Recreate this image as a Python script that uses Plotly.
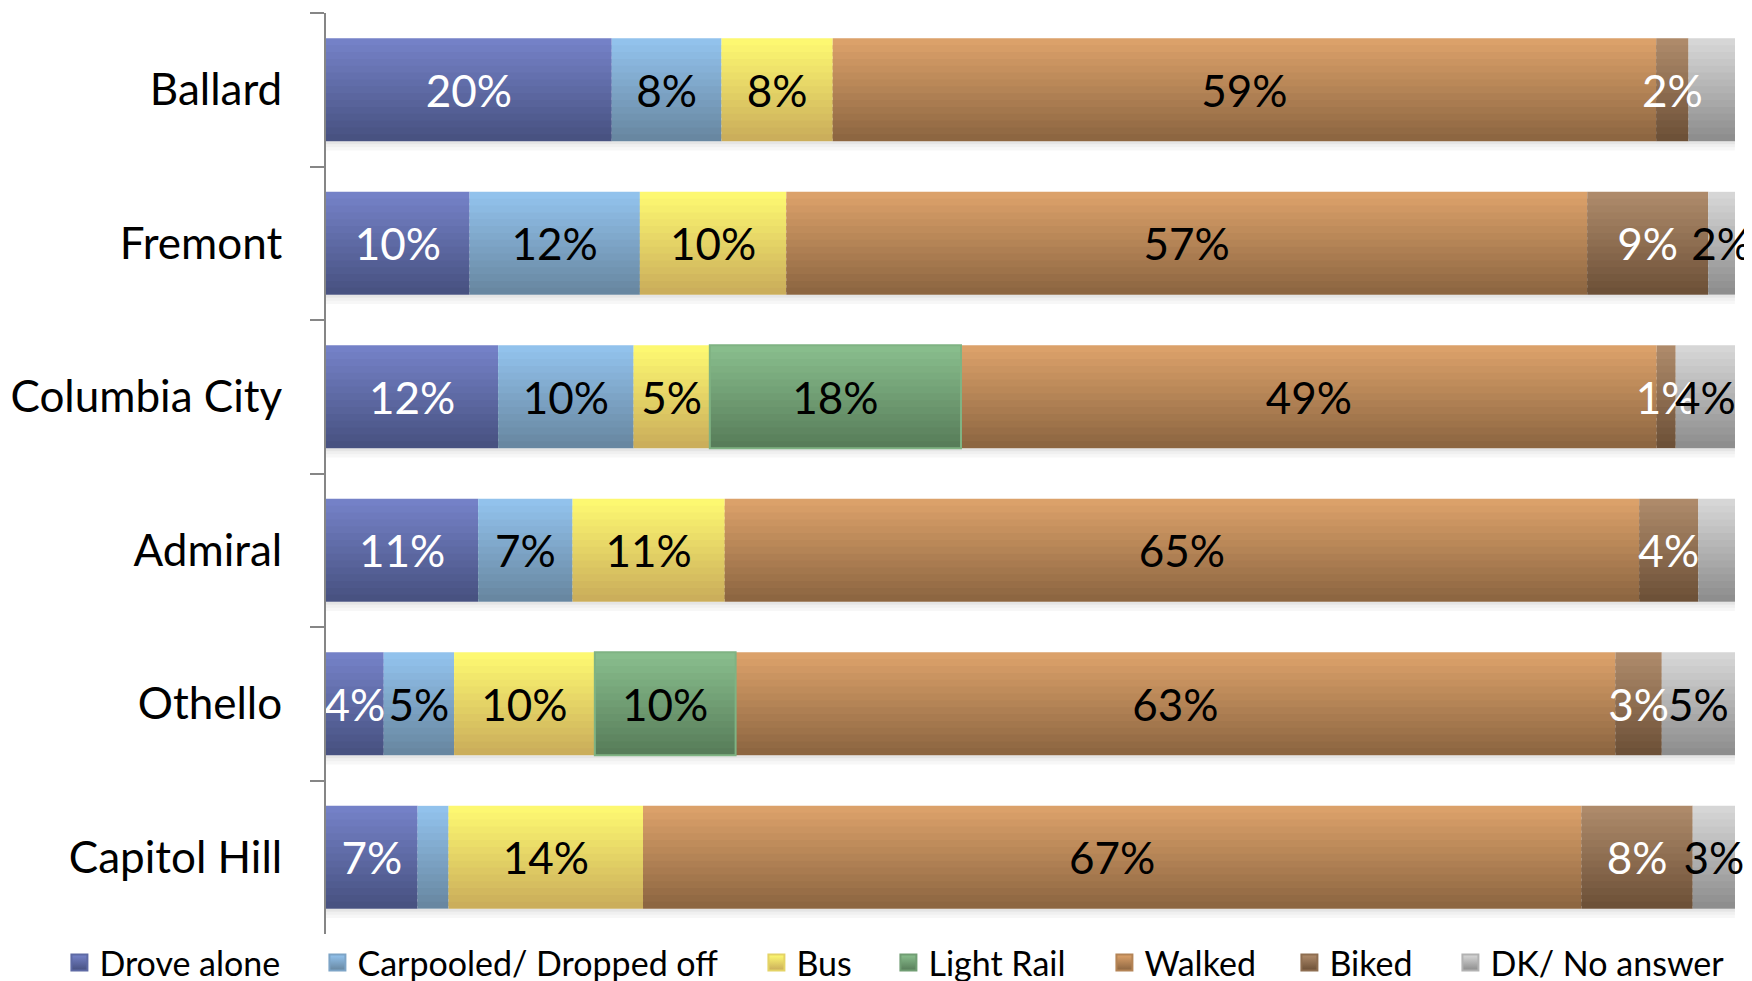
import numpy as np
import plotly.graph_objects as go

neighborhoods = ["Ballard", "Fremont", "Columbia City", "Admiral", "Othello", "Capitol Hill"]

# shares in percent (labels show them rounded)
drove_alone = [20.3, 10.2, 12.2, 10.8, 4.1, 6.5]
carpooled = [7.8, 12.1, 9.6, 6.7, 5.0, 2.2]
bus = [7.9, 10.4, 5.4, 10.8, 10.0, 13.8]
light_rail = [0, 0, 17.8, 0, 10.0, 0]
walked = [58.5, 56.9, 49.3, 64.9, 62.5, 66.6]
biked = [2.3, 8.6, 1.35, 4.2, 3.3, 7.9]
dk_no_answer = [3.3, 1.9, 4.2, 2.6, 5.2, 3.0]

# which labels are shown on the chart (0 = no label drawn)
show_label = {
    "Drove alone": [1, 1, 1, 1, 1, 1],
    "Carpooled/ Dropped off": [1, 1, 1, 1, 1, 0],
    "Bus": [1, 1, 1, 1, 1, 1],
    "Light Rail": [0, 0, 1, 0, 1, 0],
    "Walked": [1, 1, 1, 1, 1, 1],
    "Biked": [1, 1, 1, 1, 1, 1],
    "DK/ No answer": [0, 1, 1, 0, 1, 1],
}

series = [
    ("Drove alone", drove_alone, "#7683c9", "#46507f", "white"),
    ("Carpooled/ Dropped off", carpooled, "#94c4ef", "#66859e", "black"),
    ("Bus", bus, "#fffb72", "#c9ab5a", "black"),
    ("Light Rail", light_rail, "#8abf8e", "#567b58", "black"),
    ("Walked", walked, "#dea36b", "#8a6440", "black"),
    ("Biked", biked, "#b08c6c", "#6b4f36", "white"),
    ("DK/ No answer", dk_no_answer, "#d9d9d9", "#8b8b8b", "black"),
]
legend_text_widths = [213, 394, 87, 171, 140, 116, 235]
border_colors = [None, None, None, "#7fb383", None, None, None]

FONT = "Lato"
BAR_W = 0.67
K = 15  # strips used to paint the vertical gradient


def hex_to_rgb(h):
    h = h.lstrip("#")
    return np.array([int(h[i:i + 2], 16) for i in (0, 2, 4)], dtype=float)


def mix(c1, c2, t):
    a, b = hex_to_rgb(c1), hex_to_rgb(c2)
    c = a + (b - a) * t
    return "rgb(%d,%d,%d)" % tuple(np.round(c).astype(int))


vals = np.array([s[1] for s in series], dtype=float)
totals = vals.sum(axis=0)
pct = vals / totals * 100.0
bases = np.vstack([np.zeros(len(neighborhoods)), np.cumsum(pct, axis=0)[:-1]])

fig = go.Figure()

# soft drop shadow under each bar
for j, a in enumerate([0.10, 0.06, 0.03]):
    fig.add_trace(go.Bar(
        y=neighborhoods, x=[100] * len(neighborhoods), base=[0] * len(neighborhoods),
        orientation="h", width=0.02, offset=BAR_W / 2 + j * 0.02,
        marker=dict(color="rgba(0,0,0,%g)" % a, line=dict(width=0)),
        showlegend=False, hoverinfo="skip",
    ))

# gradient-painted bars
for i, (name, raw, top, bot, tcol) in enumerate(series):
    for k in range(K):
        t = (k + 0.5) / K
        w = BAR_W / K
        fig.add_trace(go.Bar(
            y=neighborhoods, x=pct[i], base=bases[i],
            orientation="h",
            width=w * (1.6 if k < K - 1 else 1.0), offset=-BAR_W / 2 + k * w,
            marker=dict(color=mix(top, bot, t), line=dict(width=0)),
            name=name, legendgroup=name, showlegend=False,
            textposition="none", hoverinfo="skip",
        ))

# data labels (transparent bars on top so text is never covered)
for i, (name, raw, top, bot, tcol) in enumerate(series):
    labels = ["%d%%" % int(v + 0.5) if (s and v > 0) else "" for v, s in zip(raw, show_label[name])]
    bc = border_colors[i]
    lw = [2 if (bc and v > 0) else 0 for v in raw]
    fig.add_trace(go.Bar(
        y=neighborhoods, x=pct[i], base=bases[i],
        orientation="h", width=BAR_W,
        marker=dict(color="rgba(0,0,0,0)",
                    line=dict(width=lw, color=bc or "rgba(0,0,0,0)")),
        name=name, legendgroup=name, showlegend=False,
        text=labels, textposition="inside", insidetextanchor="middle",
        textangle=0, constraintext="none", cliponaxis=False,
        textfont=dict(family=FONT, size=44, color=tcol),
        hoverinfo="skip",
    ))

# legend entries with gradient square swatches
for i, (name, raw, top, bot, tcol) in enumerate(series):
    fig.add_trace(go.Scatter(
        x=[None], y=[None], mode="markers", name=name, legendgroup=name,
        legendwidth=legend_text_widths[i],
        marker=dict(symbol="square", size=16, color=top,
                    gradient=dict(type="vertical", color=bot),
                    line=dict(width=2, color=mix(top, bot, 0.5))),
        showlegend=True, hoverinfo="skip",
    ))

fig.update_layout(
    width=1744, height=973,
    barmode="overlay",
    paper_bgcolor="white", plot_bgcolor="white",
    margin=dict(l=318, r=17, t=5, b=47, autoexpand=False),
    font=dict(family=FONT, color="black"),
    showlegend=True,
    legend=dict(
        orientation="h",
        x=-0.1892, xanchor="left", y=-0.0315, yanchor="middle",
        font=dict(family=FONT, size=34, color="black"),
        traceorder="normal", itemclick=False, bgcolor="rgba(0,0,0,0)",
        itemwidth=30,
    ),
    xaxis=dict(range=[0, 100.001], visible=False, showgrid=False, zeroline=False),
    yaxis=dict(
        type="category", categoryorder="array", categoryarray=neighborhoods,
        autorange="reversed",
        showline=True, linecolor="#868686", linewidth=2,
        ticks="outside", tickson="boundaries", ticklen=14, tickwidth=2, tickcolor="#868686",
        ticklabelstandoff=33,
        tickfont=dict(family=FONT, size=44, color="black"),
        showgrid=False, zeroline=False,
    ),
)

fig.write_html("out.html")
